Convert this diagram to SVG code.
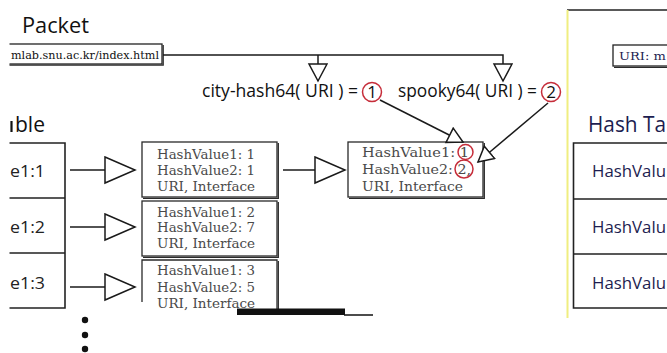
<svg xmlns="http://www.w3.org/2000/svg" width="667" height="353" viewBox="0 0 667 353">
<defs>
<style>
.sans{font-family:"Open Sans","Noto Sans","DejaVu Sans",sans-serif;}
.serif{font-family:"DejaVu Serif","Liberation Serif",serif;}
.ln{fill:none;stroke:#1a1a1a;stroke-width:1.5;}
.tbl{fill:none;stroke:#222;stroke-width:1.6;}
.hb{fill:#fff;stroke:#2a2a2a;stroke-width:1.3;}
.sh{fill:none;stroke:#2a2a2a;stroke-width:1.3;}
.ht{font-size:13px;fill:#4a4a4a;}
.red{fill:none;stroke:#c62d3a;stroke-width:1.5;}
.navy{fill:#1d1d50;}
</style>
<marker id="big" markerUnits="userSpaceOnUse" markerWidth="34" markerHeight="30" refX="31" refY="14" orient="auto">
<path d="M1,1 L31,14 L1,27 Z" fill="#fff" stroke="#1a1a1a" stroke-width="1.5"/>
</marker>
<marker id="med" markerUnits="userSpaceOnUse" markerWidth="20" markerHeight="22" refX="18" refY="10" orient="auto">
<path d="M1,1 L18,10 L1,19 Z" fill="#fff" stroke="#1a1a1a" stroke-width="1.5"/>
</marker>
<marker id="sml" markerUnits="userSpaceOnUse" markerWidth="18" markerHeight="20" refX="16" refY="9" orient="auto">
<path d="M1,1 L16,9 L1,17 Z" fill="#fff" stroke="#1a1a1a" stroke-width="1.5"/>
</marker>
<clipPath id="lc"><rect x="9.5" y="0" width="700" height="353"/></clipPath>
</defs>
<rect width="667" height="353" fill="#fff"/>

<g id="packet-title"><text class="sans" x="22" y="33" font-size="21" textLength="67" lengthAdjust="spacingAndGlyphs" fill="#111">Packet</text></g>

<g id="packet-uri" clip-path="url(#lc)">
<rect x="4" y="44" width="158" height="20" fill="#fff" stroke="#222" stroke-width="1.3"/>
<path class="sh" d="M163.2,45 V65.2 H4" stroke-width="1.2"/>
<text class="serif" x="11" y="58.5" font-size="10.5" textLength="148" lengthAdjust="spacingAndGlyphs" fill="#111">mlab.snu.ac.kr/index.html</text>
</g>

<g id="hash-funcs">
<text class="sans" x="202" y="97" font-size="18" textLength="156" lengthAdjust="spacingAndGlyphs" fill="#111">city-hash64( URI ) =</text>
<circle class="red" cx="372" cy="92" r="9.5"/>
<text class="sans" x="372" y="98" font-size="17" text-anchor="middle" fill="#111">1</text>
<text class="sans" x="398" y="97" font-size="18" textLength="139" lengthAdjust="spacingAndGlyphs" fill="#111">spooky64( URI ) =</text>
<circle class="red" cx="551" cy="92" r="9.5"/>
<text class="sans" x="551" y="98" font-size="17" text-anchor="middle" fill="#111">2</text>
</g>

<g id="left-table" clip-path="url(#lc)">
<path d="M11.5,121 V132" stroke="#111" stroke-width="2.2"/>
<text class="sans" x="15" y="132" font-size="21" textLength="30" lengthAdjust="spacingAndGlyphs" fill="#111">ble</text>
<path class="tbl" d="M0,143 H65 V308 H0 M0,198 H65 M0,253 H65"/>
<text class="sans" x="10" y="177" font-size="17" textLength="35" lengthAdjust="spacingAndGlyphs" fill="#222">e1:1</text>
<text class="sans" x="10" y="233" font-size="17" textLength="35" lengthAdjust="spacingAndGlyphs" fill="#222">e1:2</text>
<text class="sans" x="10" y="289" font-size="17" textLength="35" lengthAdjust="spacingAndGlyphs" fill="#222">e1:3</text>
</g>

<g id="entry1">
<rect class="hb" x="142" y="142" width="135" height="55"/>
<path class="sh" d="M278.3,143 V198.3 H143"/>
<text class="serif ht" x="157" y="159" textLength="98" lengthAdjust="spacingAndGlyphs">HashValue1: 1</text>
<text class="serif ht" x="157" y="175" textLength="98" lengthAdjust="spacingAndGlyphs">HashValue2: 1</text>
<text class="serif ht" x="157" y="191" textLength="98" lengthAdjust="spacingAndGlyphs">URI, Interface</text>
</g>

<g id="entry2">
<rect class="hb" x="142" y="201" width="135" height="55"/>
<path class="sh" d="M278.3,202 V257.3 H143"/>
<text class="serif ht" x="157" y="217" textLength="98" lengthAdjust="spacingAndGlyphs">HashValue1: 2</text>
<text class="serif ht" x="157" y="232" textLength="98" lengthAdjust="spacingAndGlyphs">HashValue2: 7</text>
<text class="serif ht" x="157" y="248" textLength="98" lengthAdjust="spacingAndGlyphs">URI, Interface</text>
</g>

<g id="entry3">
<rect x="142" y="260" width="135" height="50" fill="#fff"/>
<path class="sh" d="M142,302 V260 H277 V310"/>
<path class="sh" d="M278.3,261 V310"/>
<rect x="237" y="308.5" width="108" height="6.5" fill="#111"/>
<path d="M344,315 H373" stroke="#111" stroke-width="1.5"/>
<text class="serif ht" x="157" y="275" textLength="98" lengthAdjust="spacingAndGlyphs">HashValue1: 3</text>
<text class="serif ht" x="157" y="292" textLength="98" lengthAdjust="spacingAndGlyphs">HashValue2: 5</text>
<text class="serif ht" x="157" y="308" textLength="98" lengthAdjust="spacingAndGlyphs">URI, Interface</text>
</g>

<g id="ellipsis" fill="#111">
<circle cx="85" cy="320" r="3.2"/>
<circle cx="85" cy="335" r="3.2"/>
<circle cx="85" cy="349" r="3.2"/>
</g>

<g id="entry-new">
<rect class="hb" x="348" y="142" width="135" height="55"/>
<path class="sh" d="M484.3,143 V198.3 H349"/>
<text class="serif ht" x="362" y="157" textLength="107" lengthAdjust="spacingAndGlyphs">HashValue1: 1</text>
<text class="serif ht" x="362" y="174" textLength="109" lengthAdjust="spacingAndGlyphs">HashValue2: 2,</text>
<text class="serif ht" x="362" y="191" textLength="101" lengthAdjust="spacingAndGlyphs">URI, Interface</text>
<ellipse class="red" cx="465.5" cy="152" rx="7.5" ry="7.5"/>
<ellipse class="red" cx="464" cy="169" rx="9" ry="9"/>
</g>

<g id="right-panel">
<path d="M567,10 H667" stroke="#222" stroke-width="1.5"/>
<path d="M567.5,10 V318" stroke="#f0ee80" stroke-width="2"/>
<rect x="613" y="45" width="70" height="21" fill="#fff" stroke="#222" stroke-width="1.3"/>
<path class="sh" d="M614,67.3 H683"/>
<text class="serif navy" x="619" y="60" font-size="10.5" textLength="47" lengthAdjust="spacingAndGlyphs">URI: m</text>
<text class="sans navy" x="588" y="132" font-size="21" textLength="78" lengthAdjust="spacingAndGlyphs">Hash Ta</text>
<path class="tbl" d="M690,143 H573.5 V308 H690 M573.5,199 H690 M573.5,254 H690" stroke="#1d1d3a"/>
<text class="sans navy" x="592" y="177" font-size="17" textLength="74" lengthAdjust="spacingAndGlyphs">HashValu</text>
<text class="sans navy" x="592" y="233" font-size="17" textLength="74" lengthAdjust="spacingAndGlyphs">HashValu</text>
<text class="sans navy" x="592" y="289" font-size="17" textLength="74" lengthAdjust="spacingAndGlyphs">HashValu</text>
</g>

<g id="connectors">
<path class="ln" d="M163,55 H503 V81" marker-end="url(#med)"/>
<path class="ln" d="M318,55 V81" marker-end="url(#med)"/>
<path class="ln" d="M70,170 H135" marker-end="url(#big)"/>
<path class="ln" d="M70,227 H135" marker-end="url(#big)"/>
<path class="ln" d="M70,287 H135" marker-end="url(#big)"/>
<path class="ln" d="M283,170 H345" marker-end="url(#big)"/>
<path class="ln" d="M380,100 L463,142" marker-end="url(#sml)"/>
<path class="ln" d="M548,103 L478,162" marker-end="url(#sml)"/>
</g>
</svg>
